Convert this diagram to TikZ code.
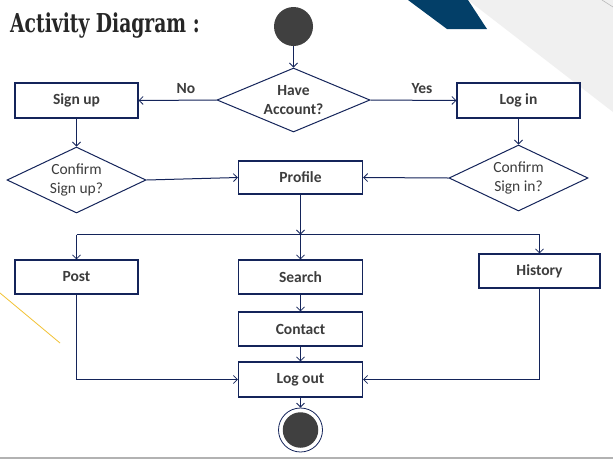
\documentclass[tikz,border=0pt]{standalone}
\usepackage{fontspec}
\usepackage{graphicx}
\setmainfont{Carlito}
\newfontfamily\titlefont{DejaVu Serif}
\usetikzlibrary{shapes.geometric,arrows.meta}
\definecolor{navy}{HTML}{14245A}
\definecolor{txt}{HTML}{3D3D3D}
\definecolor{dot}{HTML}{404040}
\definecolor{deco}{HTML}{033F68}
\definecolor{greyfill}{HTML}{F0F0F0}
\definecolor{yel}{HTML}{F2C233}
\begin{document}
\begin{tikzpicture}[x=1pt,y=-1pt,
  box/.style={draw=navy,line width=1.2pt,minimum width=124pt,minimum height=34pt,inner sep=0pt,font=\bfseries\fontsize{15.5}{18}\selectfont,text=txt},
  dia/.style={diamond,draw=navy,line width=1pt,inner sep=0pt},
  lbl/.style={font=\fontsize{15.5}{18.3}\selectfont,text=txt,align=center,inner sep=0pt},
  blbl/.style={lbl,font=\bfseries\fontsize{15.5}{18.3}\selectfont},
  conn/.style={draw=navy,line width=1pt,-{Straight Barb[length=4pt,width=8pt,line width=0.8pt]}},
  plain/.style={draw=navy,line width=1pt},
  dotnode/.style={circle,fill=dot,inner sep=0pt}
]
\useasboundingbox (0,0) rectangle (613,459);
\fill[white] (0,0) rectangle (613,459);
% decorations
\fill[greyfill] (468,0) -- (613,0) -- (613,112) -- cycle;
\draw[gray!55,line width=0.6pt] (602,0) -- (613,7);
\fill[deco] (408,0) -- (468,0) -- (487,29) -- (447,29) -- cycle;
\draw[yel,line width=0.8pt] (0,293) -- (60,343);
\draw[gray!60,line width=1.5pt] (0,458) -- (613,458);
% title
\node[anchor=base west,inner sep=0pt,text=black!85] (title) at (10,32)
  {\scalebox{0.72}[1]{\titlefont\bfseries\fontsize{26}{26}\selectfont Activity Diagram :}};
% nodes
\node[dotnode,minimum size=39pt] (start) at (293.5,26.5) {};
\node[dia,minimum width=153pt,minimum height=64pt] (acc) at (293.5,100) {};
\node[blbl] (acctext) at (acc) {Have\\Account?};
\node[box,minimum width=123pt,minimum height=35pt] (signup) at (76.5,100.5) {Sign up};
\node[box,minimum width=123pt,minimum height=35pt] (login) at (518.5,100.5) {Log in};
\node[dia,minimum width=139pt,minimum height=66pt] (csu) at (76.5,180) {};
\node[lbl] (csutext) at (csu) {Confirm\\Sign up?};
\node[dia,minimum width=139pt,minimum height=66pt] (csi) at (518.5,178) {};
\node[lbl] (csitext) at (csi) {Confirm\\Sign in?};
\node[box,minimum height=33pt] (profile) at (300.5,177.5) {Profile};
\node[box,minimum width=123pt] (post) at (76.5,277) {Post};
\node[box] (search) at (300.5,277) {Search};
\node[box,minimum width=121pt] (history) at (539.5,271) {History};
\node[box] (contact) at (300.5,329) {Contact};
\node[box,minimum height=35pt] (logout) at (300.5,379.5) {Log out};
\node[circle,draw=navy,line width=0.8pt,fill=white,minimum size=44pt,inner sep=0pt] (end) at (300.5,430) {};
\node[dotnode,minimum size=35.5pt] (endin) at (end) {};
% labels
\node[blbl] (no) at (186,89) {No};
\node[blbl] (yes) at (422,89) {Yes};
% connectors
\coordinate (fork) at (300.5,234.5);
\coordinate (forkL) at (post.north |- fork);
\coordinate (forkR) at (history.north |- fork);
\draw[conn] (start) -- (acc.north);
\draw[conn] (acc.west) -- (signup.east);
\draw[conn] (acc.east) -- (login.west);
\draw[conn] (signup.south) -- (csu.north);
\draw[conn] (login.south) -- (csi.north);
\draw[conn] (csu.east) -- (profile.west);
\draw[conn] (csi.west) -- (profile.east);
\draw[conn] (profile.south) -- (fork);
\draw[plain] (forkL) -- (forkR);
\draw[conn] (forkL) -- (post.north);
\draw[conn] (fork) -- (search.north);
\draw[conn] (forkR) -- (history.north);
\draw[conn] (search.south) -- (contact.north);
\draw[conn] (contact.south) -- (logout.north);
\draw[conn] (post.south) |- (logout.west);
\draw[conn] (history.south) |- (logout.east);
\draw[conn] (logout.south) -- (end.north);
\end{tikzpicture}
\end{document}
